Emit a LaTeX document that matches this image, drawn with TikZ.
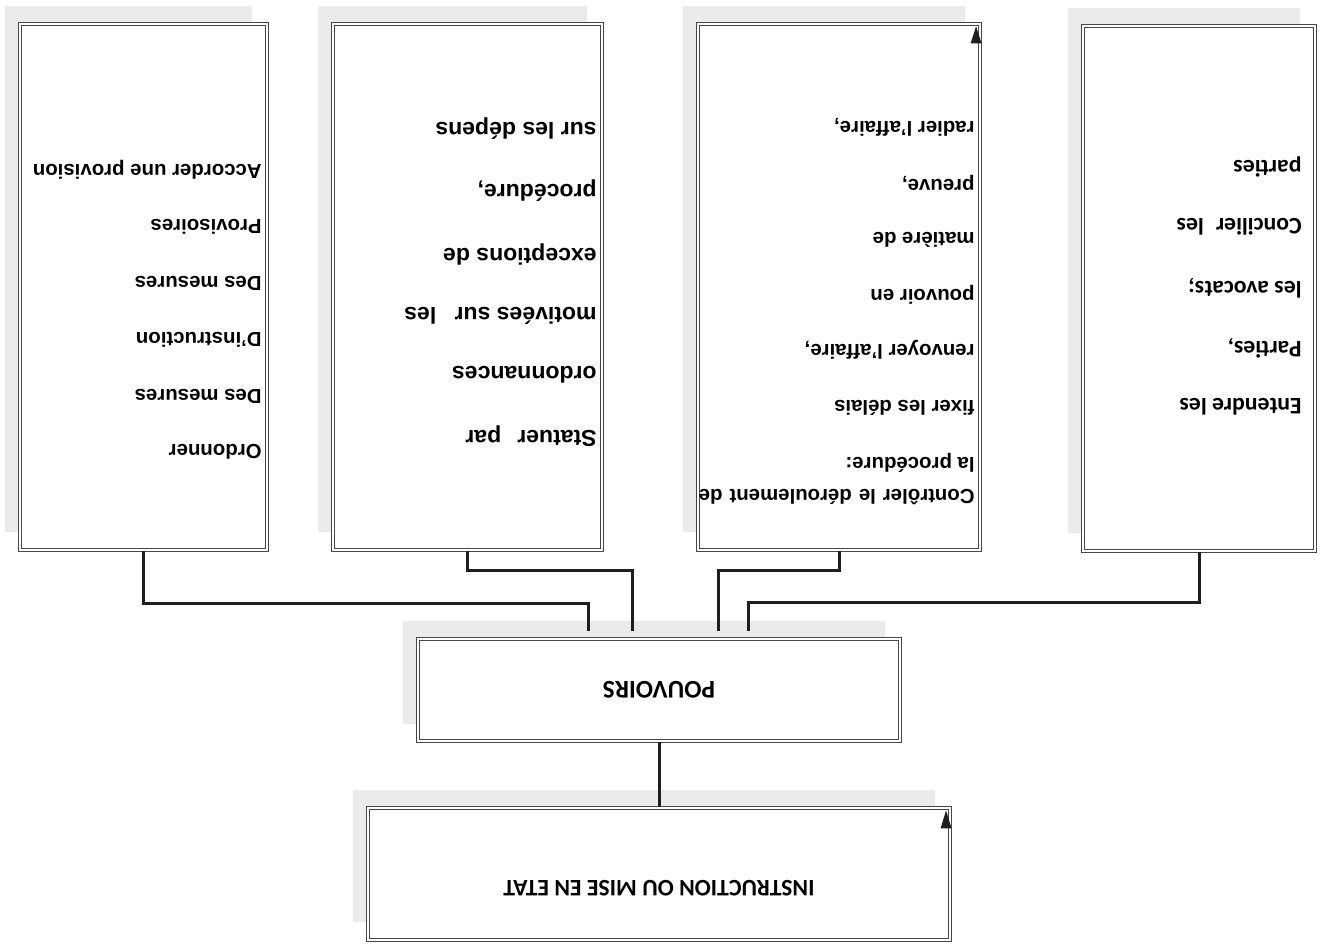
\documentclass[tikz,border=0pt]{standalone}
\usepackage{fontspec}
\setmainfont{Liberation Sans}
\newfontfamily\calib{Carlito}
\usetikzlibrary{fit,calc}
\begin{document}
\begin{tikzpicture}[x=0.02cm,y=-0.02cm,
  shadowbox/.style={fill=black!8,draw=none},
  dbox/.style={draw=black!72,line width=0.65pt,double=white,double distance=1.3pt,fill=white,inner sep=0pt},
  conn/.style={draw=black!88,line width=1.7pt},
  tip/.style={fill=black!88},
  ta/.style={rotate=180,inner sep=0pt,anchor=west,font=\bfseries\fontsize{11.6}{14}\selectfont},
  tb/.style={rotate=180,inner sep=0pt,anchor=west,font=\bfseries\fontsize{13.1}{16}\selectfont},
  td/.style={rotate=180,inner sep=0pt,anchor=west,font=\calib\bfseries\fontsize{13.5}{16}\selectfont},
  tbig/.style={rotate=180,inner sep=0pt,font=\calib\bfseries\fontsize{#1}{18}\selectfont}]
\useasboundingbox (0,0) rectangle (1322,945);
% shadows
\fill[shadowbox] (5,6) rectangle (252,532);
\fill[shadowbox] (318,6) rectangle (587,532);
\fill[shadowbox] (683,6) rectangle (965,532);
\fill[shadowbox] (1068,8) rectangle (1300,533);
\fill[shadowbox] (403,621) rectangle (885,724);
\fill[shadowbox] (353,790) rectangle (935,922);
% boxes
\node[dbox,fit={(20,24) (267,550)}] (A) {};
\node[dbox,fit={(333,24) (602,550)}] (B) {};
\node[dbox,fit={(698,24) (980,550)}] (C) {};
\node[dbox,fit={(1083,26) (1315,551)}] (D) {};
\node[dbox,fit={(418,639) (900,741)}] (P) {};
\node[dbox,fit={(368,808) (950,940)}] (I) {};
% texts A
\node[ta] (a1) at (262,452) {Ordonner};
\node[ta] (a2) at (262,396) {Des mesures};
\node[ta] (a3) at (262,340) {D'instruction};
\node[ta] (a4) at (262,283) {Des mesures};
\node[ta] (a5) at (262,227) {Provisoires};
\node[ta] (a6) at (262,170) {Accorder une provision};
% texts B
\node[tb] (b1) at (597,436) {Statuer\hspace{0.7em}par};
\node[tb] (b2) at (597,375) {ordonnances};
\node[tb] (b3) at (597,316) {motivées sur\hspace{0.8em}les};
\node[tb] (b4) at (597,254) {exceptions de};
\node[tb] (b5) at (597,191) {procédure,};
\node[tb] (b6) at (597,129) {sur les dépens};
% texts C
\node[ta] (c1) at (975,497) {\makebox[157pt][s]{Contrôler le déroulement de}};
\node[ta] (c2) at (975,463) {la procédure:};
\node[ta] (c3) at (975,408) {fixer les délais};
\node[ta] (c4) at (975,350) {renvoyer l'affaire,};
\node[ta] (c5) at (975,295) {pouvoir en};
\node[ta] (c6) at (975,240) {matière de};
\node[ta] (c7) at (975,183) {preuve,};
\node[ta] (c8) at (975,127) {radier l'affaire,};
% texts D
\node[td] (d1) at (1302,407) {Entendre les};
\node[td] (d2) at (1302,348) {Parties,};
\node[td] (d3) at (1302,288) {les avocats;};
\node[td] (d4) at (1302,227) {Concilier\hspace{0.5em}les};
\node[td] (d5) at (1302,167) {parties};
% big labels
\node[tbig=14.5] (pt) at (P.center) {POUVOIRS};
\node[tbig=13.5] (it) at ($(I.center)+(0,14)$) {INSTRUCTION OU MISE EN ETAT};
% connectors
\coordinate (eA) at (588,631);
\coordinate (eB) at (632,631);
\coordinate (eC) at (718,631);
\coordinate (eD) at (748,631);
\draw[conn] (A.south) -- ++(0,53) -| (eA);
\draw[conn] (B.south) -- ++(0,20) -| (eB);
\draw[conn] (C.south) -- ++(0,20) -| (eC);
\draw[conn] (D.south) -- ++(0,51) -| (eD);
\draw[conn] (P.south) -- (I.north);
% small arrow tips at corners
\fill[tip] ($(C.north east)+(-10,20)$) -- ($(C.north east)+(1,20)$) -- ($(C.north east)+(-4.5,3)$) -- cycle;
\fill[tip] ($(I.north east)+(-10,21)$) -- ($(I.north east)+(1,21)$) -- ($(I.north east)+(-4.5,3)$) -- cycle;
\end{tikzpicture}
\end{document}
